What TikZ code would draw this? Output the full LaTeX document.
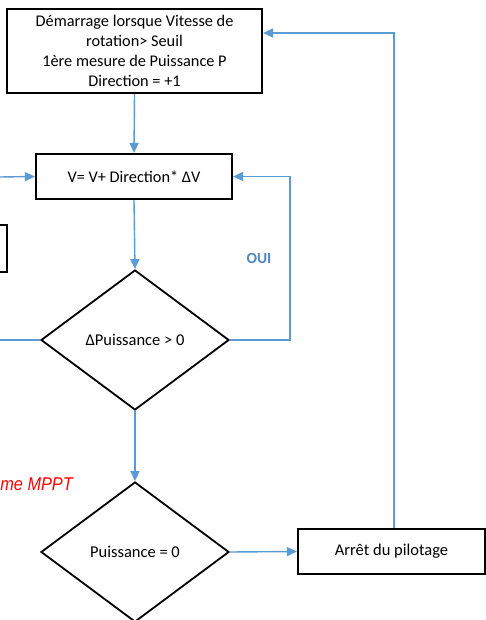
\documentclass[tikz,border=0pt]{standalone}
\usepackage{fontspec}
\setmainfont{Carlito}
\newfontfamily\arialfont{Liberation Sans}[FakeStretch=0.88]
\usetikzlibrary{shapes.geometric,arrows.meta}
\definecolor{lineblue}{RGB}{91,155,213}
\definecolor{ouiblue}{RGB}{79,134,198}
\definecolor{mpptred}{RGB}{255,0,0}
\tikzset{
  boxnode/.style={draw=black,line width=2.2pt,fill=white,align=center,inner sep=0pt},
  decision/.style={diamond,draw=black,line width=1.8pt,fill=white,inner sep=0pt,minimum width=188pt,minimum height=140pt,font=\fontsize{16.5}{20}\selectfont},
  flow/.style={draw=lineblue,line width=1.4pt},
  flowarrow/.style={flow,-{Triangle[length=10pt,width=9pt]}}
}
\begin{document}
\begin{tikzpicture}[x=1pt,y=-1pt]
\useasboundingbox (0,0) rectangle (486,620);
\clip (0,0) rectangle (486,620);
\fill[white] (0,0) rectangle (486,620);
\node[boxnode,minimum width=255pt,minimum height=84pt,font=\fontsize{16.3}{20}\selectfont] (start) at (134.5,51)
  {Démarrage lorsque Vitesse de\\rotation> Seuil\\1ère mesure de Puissance P\\Direction = +1};
\node[boxnode,minimum width=196pt,minimum height=45pt,font=\fontsize{16.3}{20}\selectfont] (vbox) at (134,176.5) {V= V+ Direction* ΔV};
\node[boxnode,minimum width=54pt,minimum height=47pt] (leftbox) at (-20,248.5) {};
\node[decision] (d1) at (135,340) {ΔPuissance > 0};
\node[decision] (d2) at (135,552) {Puissance = 0};
\node[boxnode,minimum width=187pt,minimum height=45pt,font=\fontsize{16.5}{20}\selectfont] (arret) at (391.5,551.5) {Arrêt du pilotage};
\node[anchor=base east,text=mpptred,font=\arialfont\itshape\fontsize{18.5}{21}\selectfont,inner sep=0pt] (mppt) at (73,490) {me MPPT};
\node[font=\bfseries\fontsize{15.5}{18}\selectfont,text=ouiblue] (oui) at (259,258) {OUI};
\coordinate (lin) at (0,177);
\coordinate (lout) at (0,340);
\coordinate (rloop) at (290,340);
\coordinate (ctop) at (394,33);
\draw[flowarrow] (start.south) -- (vbox.north);
\draw[flowarrow] (lin) -- (vbox.west);
\draw[flowarrow] (vbox.south) -- (d1.north);
\draw[flow] (d1.west) -- (lout);
\draw[flowarrow] (d1.east) -- (rloop) |- (vbox.east);
\draw[flowarrow] (d1.south) -- (d2.north);
\draw[flowarrow] (d2.east) -- (arret.west);
\draw[flowarrow] (arret.north -| ctop) -- (ctop) -- (start.east |- ctop);
\end{tikzpicture}
\end{document}
